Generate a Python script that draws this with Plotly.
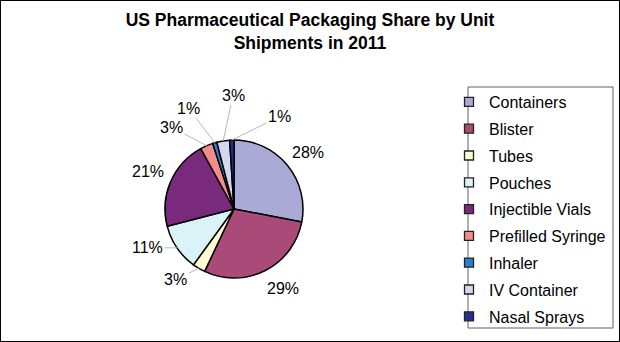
import math
import plotly.graph_objects as go

categories = ["Containers", "Blister", "Tubes", "Pouches", "Injectible Vials",
              "Prefilled Syringe", "Inhaler", "IV Container", "Nasal Sprays"]
shares = [28, 29, 3, 11, 21, 3, 1, 3, 1]
colors = ["#AAAAD6", "#A94A78", "#FFFBD2", "#DAF2F8", "#7A2A7C",
          "#F58C8C", "#2A7FD0", "#D6D6F0", "#263092"]

W, H = 620, 342
CX, CY, R = 234, 209, 69          # pie centre / radius in pixels
FONT = "Liberation Sans, Arial"

# label placement tweaks (layout only): angle shift (deg) and distance (px)
label_shift = [2.5, -4.8, 9, 10, 0.4, -14, -8, 8.5, 28]
label_dist = [93, 93, 91, 95, 94, 103, 110, 114, 103]
leader = [False, False, True, True, False, True, True, True, True]

fig = go.Figure()
fig.add_trace(go.Pie(
    labels=categories, values=shares, sort=False, direction="clockwise",
    rotation=0, marker=dict(colors=colors, line=dict(color="black", width=1.5)),
    textinfo="none", showlegend=False, hoverinfo="label+percent",
    domain=dict(x=[(CX - R) / W, (CX + R) / W], y=[(H - CY - R) / H, (H - CY + R) / H]),
))
for c, col in zip(categories, colors):
    fig.add_trace(go.Scatter(
        x=[None], y=[None], mode="markers", name=c, legendgroup=c,
        marker=dict(symbol="square", size=9, color=col, line=dict(color="#222222", width=1.3)),
    ))

total = sum(shares)
annotations = []
cum = 0
for i, v in enumerate(shares):
    mid = (cum + v / 2) / total * 360
    cum += v
    a = math.radians(mid)
    tipx, tipy = CX + R * math.sin(a), CY - R * math.cos(a)
    la = math.radians(mid + label_shift[i])
    lx, ly = CX + label_dist[i] * math.sin(la), CY - label_dist[i] * math.cos(la)
    txt = f"{v}%"
    if leader[i]:
        annotations.append(dict(
            x=tipx / W, y=1 - tipy / H, xref="paper", yref="paper",
            ax=lx - tipx, ay=ly - tipy, axref="pixel", ayref="pixel",
            text=txt, showarrow=True, arrowhead=0, arrowwidth=1,
            arrowcolor="#B8B8B8", standoff=0,
            font=dict(family=FONT, size=16, color="black")))
    else:
        annotations.append(dict(
            x=lx / W, y=1 - ly / H, xref="paper", yref="paper",
            xanchor="center", yanchor="middle",
            text=txt, showarrow=False,
            font=dict(family=FONT, size=16, color="black")))

fig.update_layout(
    width=W, height=H, margin=dict(l=0, r=0, t=0, b=0),
    paper_bgcolor="white", plot_bgcolor="white",
    xaxis=dict(visible=False), yaxis=dict(visible=False),
    title=dict(text="<b>US Pharmaceutical Packaging Share by Unit<br>Shipments in 2011</b>",
               x=0.5, xanchor="center", y=1 - 26 / H, yanchor="top",
               font=dict(family=FONT, size=17.5, color="black")),
    legend=dict(x=449 / W, y=1 - 85 / H, xanchor="left", yanchor="top",
                borderwidth=0, bgcolor="rgba(0,0,0,0)",
                tracegroupgap=3, itemsizing="trace",
                font=dict(family=FONT, size=16, color="black")),
    annotations=annotations,
    shapes=[
        dict(type="rect", xref="paper", yref="paper", x0=468 / W, x1=613 / W,
             y0=1 - 328 / H, y1=1 - 87 / H, line=dict(color="#606060", width=1),
             fillcolor="white", layer="below"),
        dict(type="rect", xref="paper", yref="paper", x0=0, y0=0, x1=1, y1=1,
             line=dict(color="black", width=2)),
    ],
)
fig.write_html("out.html")
